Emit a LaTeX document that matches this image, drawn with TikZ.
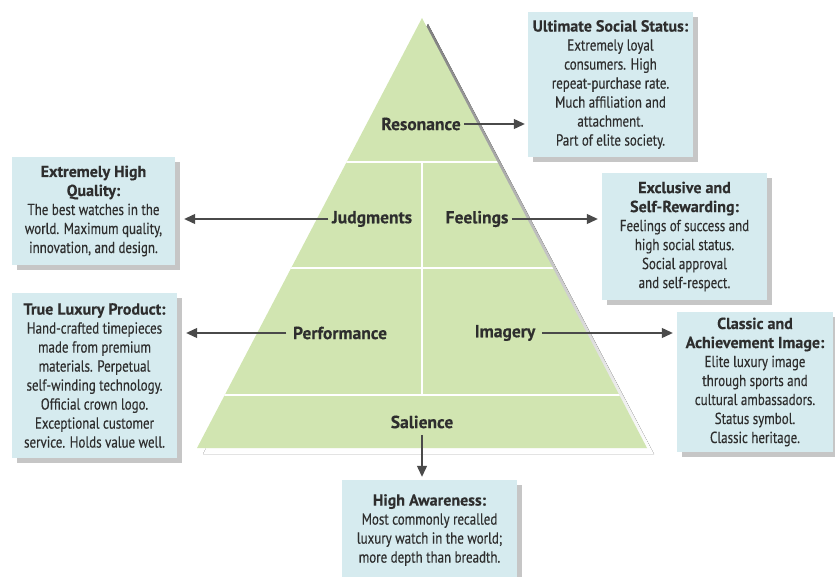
\documentclass[tikz,border=0pt]{standalone}
\usepackage{fontspec}
\setmainfont{PT Sans}[FakeStretch=0.81, FakeBold=0.3, BoldFeatures={FakeStretch=1.0, FakeBold=0.3}]
\usetikzlibrary{shadows,arrows.meta}
\definecolor{pyrgreen}{HTML}{D1E5B1}
\definecolor{boxblue}{HTML}{D6EBEF}
\definecolor{shade}{HTML}{C6C6C6}
\definecolor{ink}{HTML}{2E2E2E}
\definecolor{wire}{HTML}{4A4A4A}
\begin{document}
\begin{tikzpicture}[x=1pt,y=-1pt,
  infobox/.style={fill=boxblue, align=center, inner sep=0pt,
    font=\fontsize{16}{19}\selectfont, text=ink,
    drop shadow={shadow xshift=5pt, shadow yshift=-5pt, fill=shade, opacity=1}},
  level/.style={font=\bfseries\fontsize{17.5}{20}\selectfont, text=ink},
  arr/.style={draw=wire, line width=1.2pt, -{Triangle[length=11pt,width=10pt]}},
  divider/.style={white, line width=1.6pt}]
\useasboundingbox (0,0) rectangle (835,577);

% pyramid with its shadow
\fill[shade] (428,24) -- (654,454) -- (203,454) -- cycle;
\fill[pyrgreen] (422,18) -- (647,448) -- (197,448) -- cycle;
\begin{scope}
  \clip (422,18) -- (647,448) -- (197,448) -- cycle;
  \draw[divider] (150,162) -- (700,162);
  \draw[divider] (150,268) -- (700,268);
  \draw[divider] (150,395) -- (700,395);
  \draw[divider] (422,162) -- (422,395);
\end{scope}

% level labels
\node[level] (res)  at (421,124) {Resonance};
\node[level] (judg) at (372,219) {Judgments};
\node[level] (feel) at (477,219) {Feelings};
\node[level] (perf) at (340,333) {Performance};
\node[level] (imag) at (505,333) {Imagery};
\node[level] (sal)  at (422,422) {Salience};

% explanation boxes
\node[infobox, minimum width=165, minimum height=145] (ult) at (610.5,84.5)
  {\textbf{Ultimate Social Status:}\\Extremely loyal\\consumers. High\\repeat-purchase rate.\\Much affiliation and\\attachment.\\Part of elite society.};
\node[infobox, minimum width=163, minimum height=108] (qual) at (93.5,211)
  {\textbf{Extremely High}\\\textbf{Quality:}\\The best watches in the\\world. Maximum quality,\\innovation, and design.};
\node[infobox, minimum width=165, minimum height=165] (lux) at (94.5,375.5)
  {\textbf{True Luxury Product:}\\Hand-crafted timepieces\\made from premium\\materials. Perpetual\\self-winding technology.\\Official crown logo.\\Exceptional customer\\service. Holds value well.};
\node[infobox, minimum width=165, minimum height=127] (excl) at (684.5,236.5)
  {\textbf{Exclusive and}\\\textbf{Self-Rewarding:}\\Feelings of success and\\high social status.\\Social approval\\and self-respect.};
\node[infobox, minimum width=156, minimum height=140] (clas) at (755,382)
  {\textbf{Classic and}\\\textbf{Achievement Image:}\\Elite luxury image\\through sports and\\cultural ambassadors.\\Status symbol.\\Classic heritage.};
\node[infobox, minimum width=175, minimum height=100] (aware) at (429.5,530)
  {\textbf{High Awareness:}\\Most commonly recalled\\luxury watch in the world;\\more depth than breadth.};

% connectors
\draw[arr, shorten >=3pt] (res.east) -- (ult.west |- res.east);
\draw[arr, shorten >=9pt] (judg.west) -- (qual.east |- judg.west);
\draw[arr, shorten >=4pt] (feel.east) -- (excl.west |- feel.east);
\draw[arr, shorten >=9pt, shorten <=3pt] (perf.west) -- (lux.east |- perf.west);
\draw[arr, shorten >=4pt, shorten <=3pt] (imag.east) -- (clas.west |- imag.east);
\draw[arr, shorten >=3pt, shorten <=3pt] (sal.south) -- (sal.south |- aware.north);
\end{tikzpicture}
\end{document}
